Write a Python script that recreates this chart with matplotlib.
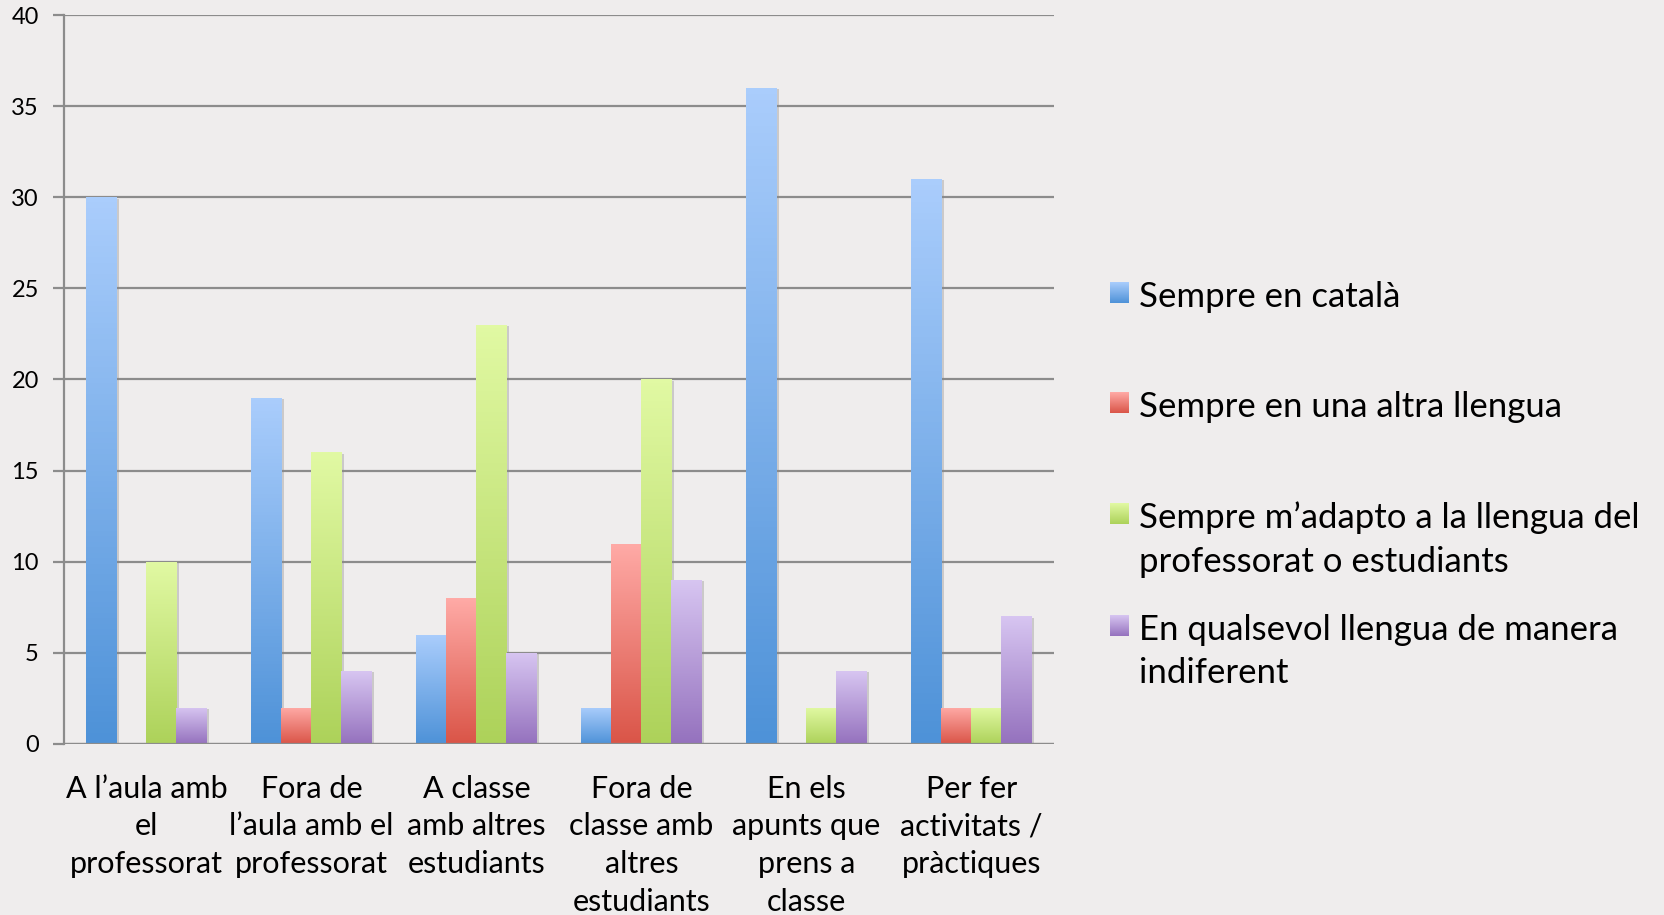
import matplotlib.pyplot as plt
import matplotlib.patheffects as pe
from matplotlib.colors import LinearSegmentedColormap
import numpy as np

categories = ["A l\u2019aula amb\nel\nprofessorat",
              "Fora de\nl\u2019aula amb el\nprofessorat",
              "A classe\namb altres\nestudiants",
              "Fora de\nclasse amb\naltres\nestudiants",
              "En els\napunts que\nprens a\nclasse",
              "Per fer\nactivitats /\npr\u00e0ctiques"]
series = ["Sempre en catal\u00e0",
          "Sempre en una altra llengua",
          "Sempre m\u2019adapto a la llengua del\nprofessorat o estudiants",
          "En qualsevol llengua de manera\nindiferent"]
catala = [30, 19, 6, 2, 36, 31]
altra = [0, 2, 8, 11, 0, 2]
adapto = [10, 16, 23, 20, 2, 2]
qualsevol = [2, 4, 5, 9, 4, 7]
values = [catala, altra, adapto, qualsevol]
# top (light) / bottom (dark) colours of each gradient
grads = [("#AACDFC", "#4E92D8"), ("#FFAAA6", "#DA5548"),
         ("#E1F9A3", "#ADD25A"), ("#D7C5F1", "#9572BE")]

plt.rcParams['font.family'] = ['Lato', 'DejaVu Sans']

W, H = 1665, 915
fig = plt.figure(figsize=(W / 100, H / 100), dpi=100)
fig.patch.set_facecolor("#EFEDED")
ax = fig.add_axes([0.0384, 0.1869, 0.5946, 0.7967])
ax.set_facecolor("none")

grad = np.linspace(0, 1, 100).reshape(-1, 1)
cmaps = [LinearSegmentedColormap.from_list("g%d" % i, [b, t]) for i, (t, b) in enumerate(grads)]

x = np.arange(len(categories))
w = 0.182
for i, vals in enumerate(values):
    pos = x + (i - 1.5) * w
    bars = ax.bar(pos, vals, width=w, color=grads[i][1], zorder=3,
                  path_effects=[pe.SimplePatchShadow(offset=(2, -1), shadow_rgbFace="#888888", alpha=0.35), pe.Normal()])
    for b, v in zip(bars, vals):
        if v <= 0:
            b.set_visible(False)
            continue
        im = ax.imshow(grad, cmap=cmaps[i], origin="lower",
                       extent=[b.get_x(), b.get_x() + w, 0, v], aspect="auto", zorder=4)
        im.set_clip_path(b)

ax.set_xlim(-0.5, len(categories) - 0.5)
ax.set_ylim(0, 40)
ax.set_yticks(range(0, 41, 5))
ax.yaxis.grid(True, color="#8C8C8C", linewidth=1.6, zorder=1)
ax.set_axisbelow(True)
for s in ["top", "right", "bottom"]:
    ax.spines[s].set_visible(False)
ax.spines["left"].set_color("#8C8C8C")
ax.spines["left"].set_linewidth(1.6)
ax.tick_params(axis="y", length=8, width=1.6, color="#8C8C8C", labelsize=17, pad=10)
ax.set_xticks(x)
ax.set_xticklabels(categories, fontsize=22, linespacing=1.42, va="top")
ax.tick_params(axis="x", length=0, pad=22)
ax.axhline(0, color="#8C8C8C", linewidth=1.6, zorder=5)

# legend: baselines of each text line (pixels from top)
baselines = [[307], [417], [528, 572], [640, 683]]
for i, (lab, bl) in enumerate(zip(series, baselines)):
    lines = lab.split("\n")
    y0 = bl[0]
    max_ = fig.add_axes([1110 / W, 1 - (y0 - 4) / H, 19 / W, 21 / H])
    max_.imshow(grad, cmap=cmaps[i], origin="lower", aspect="auto")
    max_.axis("off")
    for line, yy in zip(lines, bl):
        fig.text(1139 / W, 1 - yy / H, line, fontsize=25, va="baseline", ha="left")

fig.savefig("out.png", dpi=100, facecolor=fig.get_facecolor())
